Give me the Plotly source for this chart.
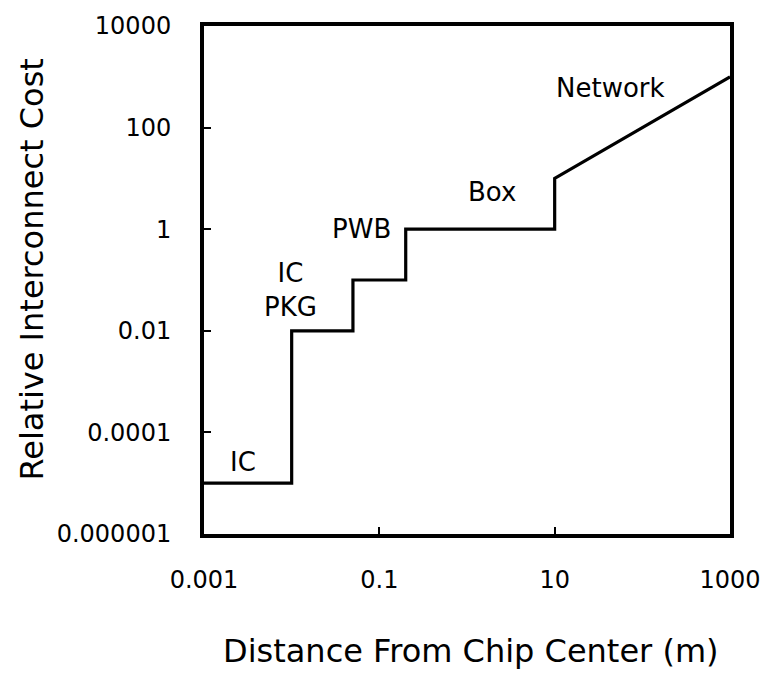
import plotly.graph_objects as go

# Step curve vertices (distance in m, relative cost)
distance = [0.001, 0.01, 0.01, 0.05, 0.05, 0.2, 0.2, 10, 10, 1000]
cost = [1e-5, 1e-5, 0.01, 0.01, 0.1, 0.1, 1, 1, 10, 1000]

x_tickvals = [0.001, 0.1, 10, 1000]
x_ticktext = ["0.001", "0.1", "10", "1000"]
y_tickvals = [10000, 100, 1, 0.01, 0.0001, 0.000001]
y_ticktext = ["10000", "100", "1", "0.01", "0.0001", "0.000001"]

# Region labels and their positions (log10 coordinates)
label_text = ["IC", "IC<br>PKG", "PWB", "Box", "Network"]
label_x = [-2.56, -2.01, -1.20, 0.29, 1.64]
label_y = [-4.59, -1.20, 0.01, 0.73, 2.77]

FONT = "DejaVu Sans"

fig = go.Figure()
fig.add_trace(go.Scatter(
    x=distance, y=cost, mode="lines",
    line=dict(color="black", width=3.2),
    hoverinfo="skip", showlegend=False,
))

for t, lx, ly in zip(label_text, label_x, label_y):
    fig.add_annotation(x=lx, y=ly, text=t, showarrow=False,
                       font=dict(family=FONT, size=26, color="black"),
                       xanchor="center", yanchor="middle")

# Axis titles
fig.add_annotation(xref="paper", yref="paper", x=0.507, y=-0.231,
                   text="Distance From Chip Center (m)", showarrow=False,
                   font=dict(family=FONT, size=32, color="black"),
                   xanchor="center", yanchor="middle")
fig.add_annotation(xref="paper", yref="paper", x=-0.326, y=0.5215,
                   text="Relative Interconnect Cost", showarrow=False,
                   textangle=-90,
                   font=dict(family=FONT, size=32, color="black"),
                   xanchor="center", yanchor="middle")

fig.update_layout(
    width=773, height=674,
    margin=dict(l=204, r=38, t=23, b=140),
    paper_bgcolor="white", plot_bgcolor="white",
    showlegend=False,
    xaxis=dict(
        type="log", range=[-3, 3],
        tickvals=x_tickvals, ticktext=x_ticktext,
        ticks="inside", ticklen=7, tickwidth=1.5, tickcolor="black",
        showline=True, linecolor="black", linewidth=4, mirror=True,
        showgrid=False, zeroline=False,
        tickfont=dict(family=FONT, size=24, color="black"),
        ticklabelstandoff=21,
    ),
    yaxis=dict(
        type="log", range=[-6, 4],
        tickvals=y_tickvals, ticktext=y_ticktext,
        ticks="inside", ticklen=7, tickwidth=1.5, tickcolor="black",
        showline=True, linecolor="black", linewidth=4, mirror=True,
        showgrid=False, zeroline=False,
        tickfont=dict(family=FONT, size=24, color="black"),
        ticklabelstandoff=24,
    ),
)

fig.write_html("out.html")
